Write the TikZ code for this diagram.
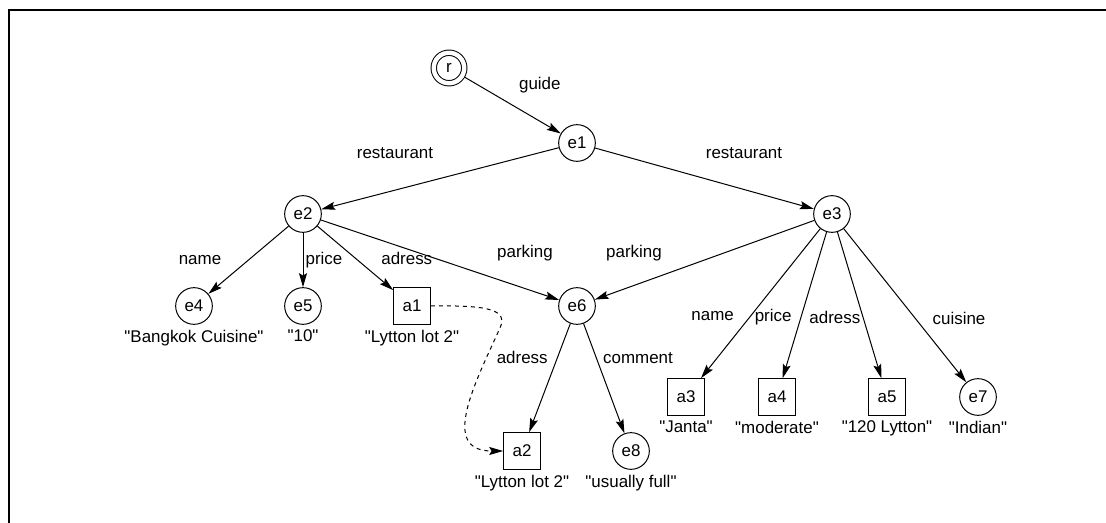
\documentclass[tikz,border=0pt]{standalone}
\usepackage{fontspec}
\setmainfont{Liberation Sans}
\usetikzlibrary{positioning,arrows.meta}

\newcommand{\strval}[1]{\textquotedbl#1\textquotedbl}

\tikzset{
  ent/.style={draw, circle, minimum size=27.5pt, inner sep=0pt},
  atom/.style={draw, rectangle, minimum size=27.5pt, inner sep=0pt},
  val/.style={inner sep=1pt},
  lbl/.style={inner sep=1pt},
  arr/.style={-{Stealth[length=10.5pt,width=6pt,inset=1.8pt]}},
}

\begin{document}
\begin{tikzpicture}[x=0.75pt, y=-0.75pt, line width=0.75pt,
    font=\fontsize{12.7pt}{15pt}\selectfont]
  \useasboundingbox (0,0) rectangle (1106,523);
  \draw[line width=1.3pt] (1106,10) -- (9,10) -- (9,523);

  % root and entities
  \node[ent, double, double distance=3.3pt, minimum size=22.9pt,
    outer sep=2.4pt] (r) at (449,68) {r};
  \node[ent] (e1) at (577,143) {e1};
  \node[ent] (e2) at (303,214) {e2};
  \node[ent] (e3) at (832,214) {e3};
  \node[ent] (e4) at (194,306) {e4};
  \node[ent] (e5) at (303,306) {e5};
  \node[atom] (a1) at (412,306) {a1};
  \node[ent] (e6) at (577,306) {e6};
  \node[atom] (a2) at (522,451) {a2};
  \node[ent] (e8) at (631,451) {e8};
  \node[atom] (a3) at (686,397) {a3};
  \node[atom] (a4) at (777,397) {a4};
  \node[atom] (a5) at (887,397) {a5};
  \node[ent] (e7) at (978,397) {e7};

  % values
  \node[val, below=2.5pt of e4] (v4) {\strval{Bangkok Cuisine}};
  \node[val, below=2.5pt of e5] (v5) {\strval{10}};
  \node[val, below=2.5pt of a1] (va1) {\strval{Lytton lot 2}};
  \node[val, below=2.5pt of a2] (va2) {\strval{Lytton lot 2}};
  \node[val, below=2.5pt of e8] (v8) {\strval{usually full}};
  \node[val, below=2.5pt of a3] (va3) {\strval{Janta}};
  \node[val, below=2.5pt of a4] (va4) {\strval{moderate}};
  \node[val, below=2.5pt of a5] (va5) {\strval{120 Lytton}};
  \node[val, below=2.5pt of e7] (v7) {\strval{Indian}};

  % edges
  \draw[arr] (r) -- node[lbl, midway, shift={(27,-20.5)}] (lguide) {guide} (e1);
  \draw[arr] (e1) -- node[lbl, midway, shift={(-45,-25.5)}] (lrest2) {restaurant} (e2);
  \draw[arr] (e1) -- node[lbl, midway, shift={(39.5,-25.5)}] (lrest3) {restaurant} (e3);
  \draw[arr] (e2) -- node[lbl, midway, shift={(-48.5,0)}] (lname4) {name} (e4);
  \draw[arr] (e2) -- node[lbl, midway, shift={(21,0)}] (lprice5) {price} (e5);
  \draw[arr] (e2) -- node[lbl, midway, shift={(51.5,0)}] (ladr1) {adress} (a1);
  \draw[arr] (e2) -- node[lbl, midway, shift={(85,-7)}] (lpark2) {parking} (e6);
  \draw[arr] (e3) -- node[lbl, midway, shift={(-70.5,-7)}] (lpark3) {parking} (e6);
  \draw[arr] (e6) -- node[lbl, midway, shift={(-27.5,-20.5)}] (ladr2) {adress} (a2);
  \draw[arr] (e6) -- node[lbl, midway, shift={(34,-20.5)}] (lcomm) {comment} (e8);
  \draw[arr] (e3) -- node[lbl, midway, shift={(-48,12.5)}] (lname3) {name} (a3);
  \draw[arr] (e3) -- node[lbl, midway, shift={(-31.5,12.5)}] (lprice4) {price} (a4);
  \draw[arr] (e3) -- node[lbl, midway, shift={(-24.5,12.5)}] (ladr5) {adress} (a5);
  \draw[arr] (e3) -- node[lbl, midway, shift={(54,12.5)}] (lcuis) {cuisine} (e7);

  % same value link
  \coordinate (dbend) at (500,328);
  \draw[arr, dashed] (a1.east) .. controls (490,305) and (508,310) .. (dbend)
    .. controls (474,385) and (440,451) .. (a2.west);
\end{tikzpicture}
\end{document}
